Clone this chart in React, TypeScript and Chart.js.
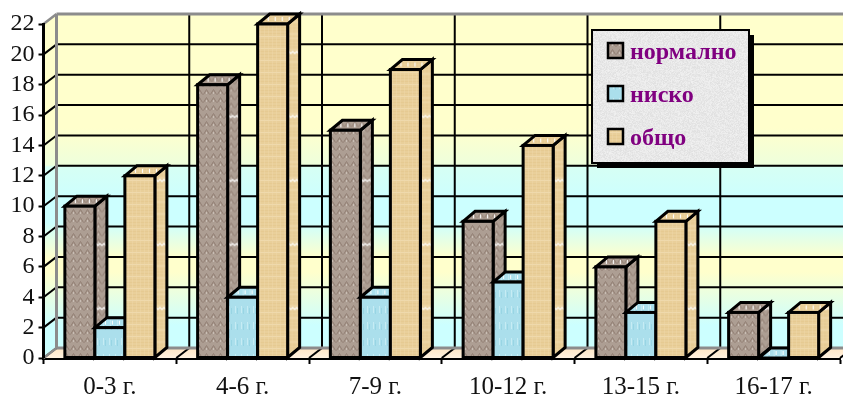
import React, { useEffect, useRef } from "react";
import { Chart, registerables } from "chart.js";

Chart.register(...registerables);

const categories = ["0-3 г.", "4-6 г.", "7-9 г.", "10-12 г.", "13-15 г.", "16-17 г."];
const normalno = [10, 18, 15, 9, 6, 3];
const nisko = [2, 4, 4, 5, 3, 0];
const obshto = [12, 22, 19, 14, 9, 3];
const yTicks = { min: 0, max: 22, step: 2 };

const WIDTH = 843;
const HEIGHT = 398;
const SERIF = '"Liberation Serif", "Times New Roman", serif';
const WALL_DX = 13;
const WALL_DY = -10;
const BAR_DX = 12;
const BAR_DY = -10;

function tile(w: number, h: number, paint: (c: CanvasRenderingContext2D) => void) {
  const el = document.createElement("canvas");
  el.width = w;
  el.height = h;
  paint(el.getContext("2d")!);
  return el;
}

function speckle(i: number) {
  const s = Math.sin(i * 12.9898) * 43758.5453;
  return s - Math.floor(s);
}

const paintBrown = (c: CanvasRenderingContext2D, w: number, h: number) => {
  c.fillStyle = "#AD9E93";
  c.fillRect(0, 0, w, h);
  c.lineWidth = 1;
  for (let y = 0; y < h; y += 8) {
    for (let x = 0; x < w; x += 7) {
      c.strokeStyle = "#927F74";
      c.beginPath();
      c.moveTo(x + 0.5, y + 6.5);
      c.lineTo(x + 3.5, y + 1.5);
      c.lineTo(x + 6.5, y + 6.5);
      c.stroke();
      c.fillStyle = "#C9BEB5";
      c.fillRect(x + 3, y + 4, 1, 2);
    }
  }
};

const paintBlue = (c: CanvasRenderingContext2D, w: number, h: number) => {
  c.fillStyle = "#ABDFEC";
  c.fillRect(0, 0, w, h);
  for (let y = 0; y < h; y += 16) {
    for (let x = 0; x < w; x += 6) {
      c.fillStyle = "#C6ECF4";
      c.fillRect(x + 1, y + 2, 1, 7);
      c.fillStyle = "#98D5E4";
      c.fillRect(x + 3, y + 4, 1, 6);
    }
  }
};

const paintTan = (c: CanvasRenderingContext2D, w: number, h: number) => {
  c.fillStyle = "#E9CF9A";
  c.fillRect(0, 0, w, h);
  for (let y = 0; y < h; y += 3) {
    c.fillStyle = y % 12 === 0 ? "#EFD9AC" : "#E6CA92";
    c.fillRect(0, y, w, 1);
  }
  for (let x = 0; x < w; x += 4) {
    c.fillStyle = "rgba(240,218,172,0.4)";
    c.fillRect(x, 0, 1, h);
  }
};

type Painter = (c: CanvasRenderingContext2D, w: number, h: number) => void;

function sideTile(paint: Painter) {
  return tile(12, 64, (c) => {
    paint(c, 12, 64);
    c.strokeStyle = "#FFFFFF";
    c.lineWidth = 1.2;
    c.beginPath();
    for (let x = 1; x <= 11; x += 2) {
      c.lineTo(x, 14 + (x % 4 === 1 ? 0 : 2));
    }
    c.stroke();
  });
}

function topTile(paint: Painter) {
  return tile(7, 10, (c) => {
    paint(c, 7, 10);
    c.fillStyle = "#FFFFFF";
    c.fillRect(3, 3, 1, 4);
  });
}

function grayTile() {
  return tile(64, 64, (c) => {
    for (let y = 0; y < 64; y++) {
      for (let x = 0; x < 64; x++) {
        const v = 224 + Math.round(speckle(x * 67 + y * 131 + 7) * 16);
        c.fillStyle = `rgb(${v},${v},${v})`;
        c.fillRect(x, y, 1, 1);
      }
    }
  });
}

function poly(c: CanvasRenderingContext2D, pts: number[][]) {
  c.beginPath();
  pts.forEach(([x, y], i) => (i ? c.lineTo(x, y) : c.moveTo(x, y)));
  c.closePath();
}

function line(c: CanvasRenderingContext2D, x0: number, y0: number, x1: number, y1: number, color: string, width: number) {
  c.strokeStyle = color;
  c.lineWidth = width;
  c.beginPath();
  c.moveTo(x0, y0);
  c.lineTo(x1, y1);
  c.stroke();
}

// Back wall, left wall and floor, with their grid lines, behind the bars.
const roomPlugin = {
  id: "room",
  beforeDatasetsDraw(chart: any) {
    const c: CanvasRenderingContext2D = chart.ctx;
    const { x: xs, y: ys } = chart.scales;
    const left = xs.left;
    const right = xs.right;
    const bottom = ys.bottom;
    const top = ys.top;
    const backLeft = left + WALL_DX;
    const backRight = right + WALL_DX;
    const backTop = top + WALL_DY;
    const backBottom = bottom + WALL_DY;

    const g = c.createLinearGradient(0, backTop, 0, backBottom);
    const at = (y: number) => (y - backTop) / (backBottom - backTop);
    g.addColorStop(0, "#FFFFCC");
    g.addColorStop(at(128), "#FFFFCC");
    g.addColorStop(at(165), "#EEFFDC");
    g.addColorStop(at(167), "#D6FFF4");
    g.addColorStop(at(200), "#CCFFFF");
    g.addColorStop(at(222), "#CCFFFF");
    g.addColorStop(at(258), "#FFFFCC");
    g.addColorStop(at(272), "#FFFFCC");
    g.addColorStop(at(325), "#CCFFFF");
    g.addColorStop(1, "#CCFFFF");

    c.save();
    c.fillStyle = g;
    c.fillRect(backLeft, backTop, backRight - backLeft, backBottom - backTop);
    poly(c, [[left, bottom], [left, top], [backLeft, backTop], [backLeft, backBottom]]);
    c.fill();

    const floor = c.createLinearGradient(0, backBottom, 0, bottom);
    floor.addColorStop(0, "#FFE6C4");
    floor.addColorStop(1, "#FFF2E0");
    c.fillStyle = floor;
    poly(c, [[left, bottom], [backLeft, backBottom], [backRight, backBottom], [right, bottom]]);
    c.fill();

    ys.ticks.forEach((t: any) => {
      const y = ys.getPixelForValue(t.value);
      if (t.value === yTicks.min || t.value === yTicks.max) return;
      line(c, left, y, backLeft, y + WALL_DY, "#000000", 2);
      line(c, backLeft, y + WALL_DY, backRight, y + WALL_DY, "#000000", 2);
    });

    for (let i = 0; i <= categories.length; i++) {
      const x = xs.getPixelForValue(i - 0.5);
      line(c, x + WALL_DX, backTop, x + WALL_DX, backBottom, "#000000", 2);
      line(c, x, bottom, x + WALL_DX, backBottom, "#000000", 2);
    }

    line(c, backLeft, backTop, backRight, backTop, "#8C8C8C", 3);
    line(c, backLeft, backBottom, backRight, backBottom, "#8C8C8C", 3);
    line(c, backLeft, backTop, backLeft, backBottom, "#8C8C8C", 3);
    line(c, left, top, backLeft, backTop, "#8C8C8C", 2.5);
    line(c, left, bottom, backLeft, backBottom, "#8C8C8C", 2.5);
    line(c, left, top - 1, left, bottom, "#000000", 3);
    c.restore();

    drawBars(chart);
    return false;
  },
};

// Bars go left to right so each one overlaps the side of its neighbour.
function drawBars(chart: any) {
  const c: CanvasRenderingContext2D = chart.ctx;
  const textures = chart.options.plugins.room.textures;
  chart.data.datasets.forEach((_: any, di: number) => {
    const tex = textures[di];
    chart.getDatasetMeta(di).data.forEach((bar: any) => {
      const half = bar.width / 2;
      const l = bar.x - half;
      const r = bar.x + half;
      const t = bar.y;
      const b = bar.base;
      c.save();
      c.lineWidth = 3;
      c.strokeStyle = "#000000";
      c.lineJoin = "miter";

      c.save();
      c.translate(r, b);
      poly(c, [[0, 0], [0, t - b], [BAR_DX, t - b + BAR_DY], [BAR_DX, BAR_DY]]);
      c.fillStyle = tex.side;
      c.fill();
      c.stroke();
      c.restore();

      c.save();
      c.translate(l, t + BAR_DY);
      poly(c, [[0, -BAR_DY], [BAR_DX, 0], [r - l + BAR_DX, 0], [r - l, -BAR_DY]]);
      c.fillStyle = tex.top;
      c.fill();
      c.stroke();
      c.restore();

      if (b - t > 0) {
        bar.draw(c);
        c.strokeRect(l, t, r - l, b - t);
      }
      c.restore();
    });
  });
}

// Boxed key in the upper right of the room, with a hard drop shadow.
const keyPlugin = {
  id: "key",
  afterDraw(chart: any) {
    const c: CanvasRenderingContext2D = chart.ctx;
    const gray = chart.options.plugins.key.texture;
    const box = { l: 592, t: 30, r: 749, b: 163 };
    c.save();
    c.fillStyle = "#000000";
    c.fillRect(box.l + 5, box.t + 5, box.r - box.l, box.b - box.t);
    c.fillStyle = gray;
    c.fillRect(box.l, box.t, box.r - box.l, box.b - box.t);
    c.lineWidth = 2;
    c.strokeStyle = "#000000";
    c.strokeRect(box.l, box.t, box.r - box.l, box.b - box.t);

    const rows = [51, 94, 137];
    c.textBaseline = "middle";
    c.textAlign = "left";
    c.font = `bold 24px ${SERIF}`;
    chart.data.datasets.forEach((ds: any, i: number) => {
      const y = rows[i];
      c.fillStyle = ds.backgroundColor;
      c.fillRect(608, y - 8, 15, 15);
      c.strokeStyle = "#000000";
      c.lineWidth = 2.5;
      c.strokeRect(608, y - 8, 15, 15);
      c.fillStyle = "#800080";
      c.fillText(ds.label, 630, y + 2);
    });
    c.restore();
  },
};

export default function App() {
  const ref = useRef<HTMLCanvasElement>(null);

  useEffect(() => {
    const canvas = ref.current!;
    const ctx = canvas.getContext("2d")!;
    const pat = (el: HTMLCanvasElement) => ctx.createPattern(el, "repeat")!;

    const faces = (paint: Painter, w: number, h: number) => ({
      front: pat(tile(w, h, (c) => paint(c, w, h))),
      side: pat(sideTile(paint)),
      top: pat(topTile(paint)),
    });
    const brown = faces(paintBrown, 14, 16);
    const blue = faces(paintBlue, 12, 16);
    const tan = faces(paintTan, 16, 24);

    const dataset = (label: string, data: number[], front: CanvasPattern) => ({
      label,
      data,
      backgroundColor: front,
      borderWidth: 0,
      barPercentage: 1,
      categoryPercentage: 0.678,
    });

    const chart = new Chart(ctx, {
      type: "bar",
      data: {
        labels: categories,
        datasets: [
          dataset("нормално", normalno, brown.front),
          dataset("ниско", nisko, blue.front),
          dataset("общо", obshto, tan.front),
        ],
      },
      plugins: [roomPlugin, keyPlugin],
      options: {
        animation: false,
        responsive: false,
        devicePixelRatio: 1,
        layout: { padding: { top: 24, right: 3, left: 0, bottom: 0 } },
        plugins: {
          legend: { display: false },
          title: { display: false },
          tooltip: { enabled: false },
          room: { textures: [brown, blue, tan] },
          key: { texture: pat(grayTile()) },
        } as any,
        scales: {
          x: {
            grid: {
              drawOnChartArea: false,
              drawTicks: true,
              tickLength: 6,
              tickWidth: 2,
              tickColor: "#000000",
            },
            border: { color: "#000000", width: 3 },
            ticks: {
              color: "#111111",
              font: { family: SERIF, size: 25 },
              padding: 8,
              maxRotation: 0,
              autoSkip: false,
            },
            afterFit: (s: any) => {
              s.height = 40;
            },
          },
          y: {
            min: yTicks.min,
            max: yTicks.max,
            grid: {
              drawOnChartArea: false,
              drawTicks: true,
              tickLength: 5,
              tickWidth: 2,
              tickColor: "#000000",
            },
            border: { color: "#000000", width: 3 },
            ticks: {
              stepSize: yTicks.step,
              autoSkip: false,
              color: "#111111",
              font: { family: SERIF, size: 24 },
              padding: 4,
            },
            afterFit: (s: any) => {
              s.width = 43.5;
            },
          },
        },
      },
    });
    return () => chart.destroy();
  }, []);

  return (
    <div style={{ position: "fixed", left: 0, top: 0, width: WIDTH, height: HEIGHT, background: "#FFFFFF", overflow: "hidden" }}>
      <canvas ref={ref} width={WIDTH} height={HEIGHT} style={{ display: "block", width: WIDTH, height: HEIGHT }} />
    </div>
  );
}
